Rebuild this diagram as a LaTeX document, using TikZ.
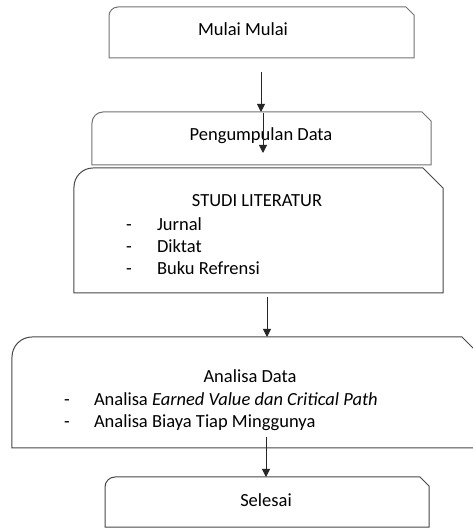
\documentclass[tikz,border=0pt]{standalone}
\usepackage{fontspec}
\setmainfont{Carlito}
\usetikzlibrary{arrows.meta}
\tikzset{
  boxarea/.style={draw=none, inner sep=0pt, outer sep=0pt},
  boxline/.style={draw=black!72, line width=1bp},
  lightline/.style={draw=black!55, line width=1bp},
  txt/.style={inner sep=0pt, outer sep=0pt, text height=13bp, text depth=4.5bp,
    font=\fontsize{18.5bp}{22bp}\selectfont, text=black},
  arr/.style={draw=black!85, line width=0.9bp, -{Triangle[width=8bp,length=8bp]}}
}
\newcommand{\snipoutline}[4]{% style, node, radius, chamfer
  \draw[#1] (#2.south west) -- ([yshift=-#3]#2.north west)
    arc[start angle=180,end angle=90,radius=#3]
    -- ([xshift=-#4]#2.north east) -- ([yshift=-#4]#2.north east)
    -- (#2.south east) -- cycle;}
\begin{document}
\begin{tikzpicture}[x=1bp,y=1bp]
\clip (0,0) rectangle (473,529);
\fill[white] (0,0) rectangle (473,529);
% boxes
\node[boxarea, minimum width=305bp, minimum height=51bp] (mulai) at (261.5,496.5) {};
\node[boxarea, minimum width=339bp, minimum height=53bp] (peng) at (261.5,390.5) {};
\node[boxarea, minimum width=369bp, minimum height=125bp] (studi) at (258.5,298.5) {};
\node[boxarea, minimum width=472bp, minimum height=111bp] (anal) at (248,136.5) {};
\node[boxarea, minimum width=324bp, minimum height=50bp] (sel) at (267,27) {};
\snipoutline{lightline}{mulai}{9bp}{8bp}
\snipoutline{lightline}{peng}{11bp}{9bp}
\snipoutline{boxline}{studi}{19bp}{20bp}
\snipoutline{boxline}{anal}{20bp}{22bp}
\snipoutline{boxline}{sel}{10bp}{9bp}
% texts
\node[txt] (t1) at (243,498) {Mulai Mulai};
\node[txt] (t2) at (261,393) {Pengumpulan Data};
\node[txt] (t3) at (257,327) {STUDI LITERATUR};
\node[txt] (d31) at (129,303) {-};
\node[txt] (d32) at (129,281) {-};
\node[txt] (d33) at (129,259) {-};
\node[txt, anchor=west] (l31) at (157,303) {Jurnal};
\node[txt, anchor=west] (l32) at (157,281) {Diktat};
\node[txt, anchor=west] (l33) at (157,259) {Buku Refrensi};
\node[txt] (t4) at (250,151) {Analisa Data};
\node[txt] (d41) at (67,128) {-};
\node[txt] (d42) at (67,106) {-};
\node[txt, anchor=west] (l41) at (94,128) {Analisa \textit{Earned Value dan Critical Path}};
\node[txt, anchor=west] (l42) at (94,106) {Analisa Biaya Tiap Minggunya};
\node[txt] (t5) at (266,27) {Selesai};
% connectors
\coordinate (a1s) at (261,457);
\coordinate (a2s) at (263,416);
\coordinate (a2e) at (263,376);
\coordinate (a3s) at (267,232);
\coordinate (a4s) at (266,92);
\draw[arr] (a1s) -- (a1s |- peng.north);
\draw[arr] (a2s) -- (a2e);
\draw[arr] (a3s) -- (a3s |- anal.north);
\draw[arr] (a4s) -- (a4s |- sel.north);
\end{tikzpicture}
\end{document}
